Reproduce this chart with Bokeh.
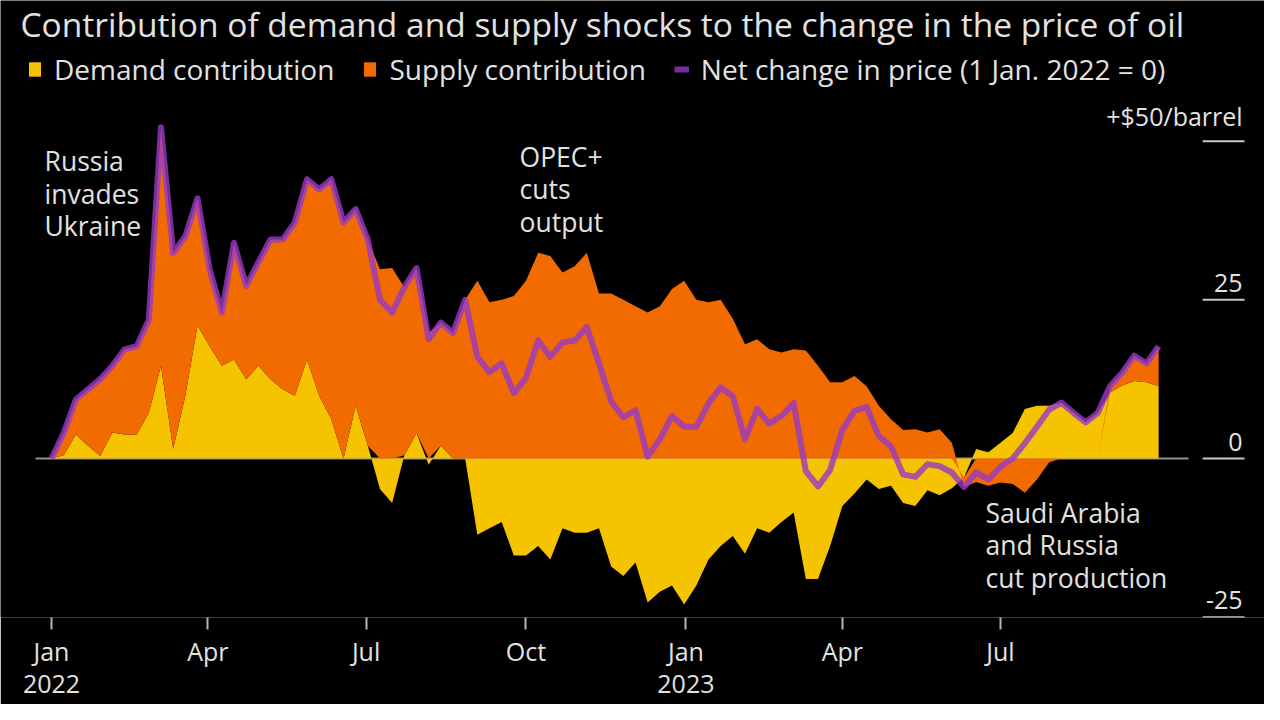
from bokeh.plotting import figure
from bokeh.models import Range1d, FixedTicker, Legend, LegendItem, ColumnDataSource, Label
from bokeh.core.properties import value
from bokeh.embed import file_html
from bokeh.resources import INLINE

# ---- data (weekly readings, week 0 = 1 Jan 2022), $/barrel ----
week = list(range(92))
demand = [0, 0.5, 3.8, 2, 0.4, 4.1, 3.8, 3.8, 7.2, 14.6,
          1.5, 9.9, 20.9, 17.7, 14.6, 15.6, 12.5, 14.6, 12.5, 10.9,
          9.9, 15.6, 9.9, 6.2, 0, 8.3, 2, -4.8, -7, 0.5,
          4, -1, 2, 0, 0, -12, -11, -10, -15.3, -15.3,
          -13.8, -15.9, -11, -11.7, -11.7, -11, -17, -18.5, -16.4, -22.7,
          -21, -20, -23, -20, -15.9, -13.8, -12.2, -15, -11, -11.7,
          -10, -8.5, -19, -19, -13.8, -7.5, -5.5, -3.3, -4.8, -4.3,
          -7, -7.5, -5, -5.8, -4.7, -3, 1.5, 1, 2.5, 4,
          7.8, 8.3, 8.3, 8.8, 7.2, 5.7, 7.2, 10.4, 11.5, 12.2,
          12, 11.4]
supply = [0, 3.5, 5.5, 8.9, 12.1, 10.5, 13.4, 13.9, 14.7, 37.6,
          30.9, 25.1, 20.1, 12.1, 8.4, 18.4, 14.7, 16.3, 22, 23.6,
          27.3, 28.4, 32.5, 37.8, 37.2, 31, 32.5, 29.8, 30, 26.5,
          26, 19.8, 19.4, 19.8, 25, 28, 24.6, 25, 25.6, 28,
          32.4, 31.9, 29.3, 30.3, 32.4, 26, 26, 25, 24, 23,
          24, 26.7, 28, 25, 24.6, 25, 22, 18, 18.8, 17.2,
          16.7, 17.2, 17, 14.6, 12, 12, 13, 11.4, 8.3, 6.2,
          4.5, 4.6, 4.1, 4.6, 2.5, -1.5, -3.7, -4.3, -3.8, -4,
          -5.4, -3.3, -0.6, 0, 0, 0, 0, 1, 2, 4,
          3, 6.3]
net = [0, 4, 9.3, 10.9, 12.5, 14.6, 17.2, 17.7, 21.9, 52.2,
       32.4, 35, 41, 29.8, 23, 34, 27.2, 30.9, 34.5, 34.5,
       37.2, 44, 42.4, 44, 37.2, 39.3, 34.5, 25, 23, 27,
       30, 18.8, 21.4, 19.8, 25, 16, 13.6, 15, 10.3, 12.7,
       18.6, 16, 18.3, 18.6, 20.7, 15, 9, 6.5, 7.6, 0.3,
       3, 6.7, 5, 5, 8.7, 11.2, 9.8, 3, 7.8, 5.5,
       6.7, 8.7, -2, -4.4, -1.8, 4.5, 7.5, 8.1, 3.5, 1.9,
       -2.5, -2.9, -0.9, -1.2, -2.2, -4.5, -2.2, -3.3, -1.3, 0,
       2.4, 5, 7.7, 8.8, 7.2, 5.7, 7.2, 11.4, 13.5, 16.2,
       15, 17.7]

tick_days = [0, 90, 181, 273, 365, 455, 546]
tick_labels = ["Jan\n2022", "Apr", "Jul", "Oct", "Jan\n2023", "Apr", "Jul"]
y_ticks = [50, 25, 0, -25]
y_tick_labels = ["+$50/barrel", "25", "0", "-25"]
notes = ["Russia\ninvades\nUkraine", "OPEC+\ncuts\noutput", "Saudi Arabia\nand Russia\ncut production"]
note_day = [-4, 269.3, 537.4]
note_val = [41.75, 42.4, -13.7]

YELLOW = "#f5c300"
ORANGE = "#f26b00"
PURPLE = "#973ac6"
TXT = "#e2e2e2"
FONT = "Open Sans"

# ---- stacking (positives up, negatives down) ----
days = [7 * w for w in week]
y_lo = [0.0] * len(days)
y_hi = demand
o_lo = [d if d * s > 0 else 0.0 for d, s in zip(demand, supply)]
o_hi = [lo + s for lo, s in zip(o_lo, supply)]
src = ColumnDataSource(dict(x=days, ylo=y_lo, yhi=y_hi, olo=o_lo, ohi=o_hi, net=net))

p = figure(width=1264, height=704, output_backend="svg", toolbar_location=None,
           x_range=Range1d(-29.34, 697.9), y_range=Range1d(-25.05, 72.16),
           min_border_left=0, min_border_right=0, min_border_top=0, min_border_bottom=87,
           background_fill_color="black", border_fill_color="black", outline_line_color=None)
p.grid.visible = False
p.yaxis.visible = False

xa = p.xaxis[0]
xa.ticker = FixedTicker(ticks=tick_days)
xa.major_label_overrides = {d: l for d, l in zip(tick_days, tick_labels)}
xa.axis_line_color = None
xa.major_tick_line_color = "#b5b5b5"
xa.major_tick_line_width = 2
xa.major_tick_out = 12
xa.major_tick_in = 0
xa.minor_tick_line_color = None
xa.major_label_text_color = TXT
xa.major_label_text_font = FONT
xa.major_label_text_font_size = "25px"
xa.major_label_text_line_height = 0.95
xa.major_label_standoff = 4

# zero line
p.segment(x0=-9.2, x1=654.2, y0=0, y1=0, line_color="#8f8f8f", line_width=2)

r_d = p.varea(x="x", y1="ylo", y2="yhi", source=src, fill_color=YELLOW)
r_s = p.varea(x="x", y1="olo", y2="ohi", source=src, fill_color=ORANGE)
r_n = p.line(x="x", y="net", source=src, line_color=PURPLE, line_alpha=0.8,
             line_width=6, line_join="round")

# right-hand value scale
p.segment(x0=[662.3] * 4, x1=[686.4] * 4, y0=y_ticks, y1=y_ticks,
          line_color="#c8c8c8", line_width=2)
p.text(x=[685.3] * 4, y=y_ticks, text=y_tick_labels, text_align="right",
       text_baseline="bottom", y_offset=-8, text_color=TXT,
       text_font=value(FONT), text_font_size="25px")

# annotations
p.text(x=note_day, y=note_val, text=notes, text_align="left", text_baseline="middle",
       text_color=TXT, text_font=value(FONT), text_font_size="26.5px", text_line_height=0.9)

# title
p.add_layout(Label(x=20, y=617, x_units="screen", y_units="screen",
                   text="Contribution of demand and supply shocks to the change in the price of oil",
                   text_baseline="top", text_color=TXT, text_font=FONT, text_font_size="33.5px"))

legend = Legend(items=[LegendItem(label="Demand contribution", renderers=[r_d]),
                       LegendItem(label="Supply contribution", renderers=[r_s]),
                       LegendItem(label="Net change in price (1 Jan. 2022 = 0)", renderers=[r_n])],
                orientation="horizontal", location=(27, 529), background_fill_alpha=0,
                border_line_color=None, label_text_color=TXT, label_text_font=FONT,
                label_text_font_size="28px", glyph_width=15, glyph_height=18, spacing=28,
                padding=0, margin=0, label_standoff=12)
p.add_layout(legend)

open("out.html", "w").write(file_html(p, INLINE))
